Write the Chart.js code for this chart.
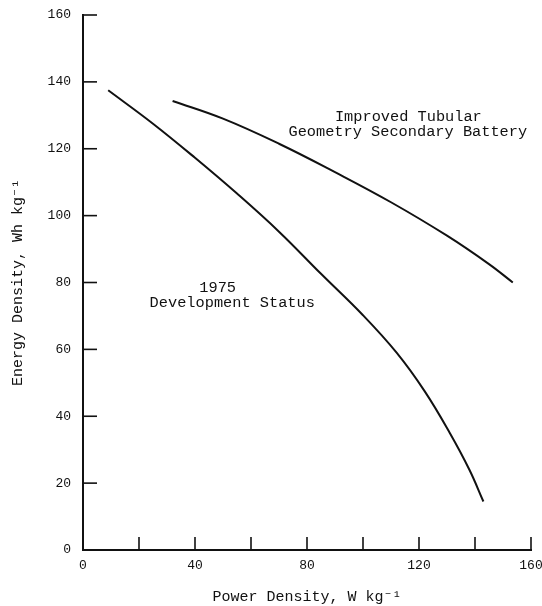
<!DOCTYPE html>
<html>
<head>
<meta charset="utf-8">
<script src="https://cdn.jsdelivr.net/npm/chart.js@4.4.1/dist/chart.umd.min.js"></script>
<style>
  html, body { margin: 0; padding: 0; background: #fff; }
  #wrap { width: 542px; height: 606px; position: relative; }
</style>
</head>
<body>
<div id="wrap"><canvas id="c" width="542" height="606"></canvas></div>
<script>
// ---- data ----
const devPower  = [9, 25, 40, 55, 70, 85, 100, 112, 122, 131, 138, 143];
const devEnergy = [137.5, 127.5, 117.3, 106.6, 95.2, 82.6, 70.2, 59, 47.5, 35, 24, 14.5];

const impPower  = [32, 50, 70, 90, 110, 130, 145, 153.5];
const impEnergy = [134.3, 129, 121.5, 113, 104, 94, 85.5, 80];

const xTickLabels = [0, 40, 80, 120, 160];
const xMinorTicks = [20, 60, 100, 140];
const yTickValues = [0, 20, 40, 60, 80, 100, 120, 140, 160];

const curveLabelText = ["Improved Tubular", "Geometry Secondary Battery", "1975", "Development Status"];
const curveLabelX    = [116.2, 116, 48.1, 53.3];
const curveLabelY    = [129.5, 124.9, 78.3, 73.8];

const toPts = (xs, ys) => xs.map((x, i) => ({ x: x, y: ys[i] }));

const MONO = "'Liberation Mono', 'DejaVu Sans Mono', monospace";
const INK = '#111';

const innerTicks = {
  id: 'innerTicks',
  afterDraw(chart) {
    const ctx = chart.ctx;
    const xs = chart.scales.x, ys = chart.scales.y;
    ctx.save();
    ctx.strokeStyle = INK;
    ctx.lineWidth = 1.6;
    const x0 = xs.getPixelForValue(0), y0 = ys.getPixelForValue(0);
    yTickValues.forEach(v => {
      if (v === 0) return;
      const py = ys.getPixelForValue(v);
      ctx.beginPath(); ctx.moveTo(x0, py); ctx.lineTo(x0 + 14, py); ctx.stroke();
    });
    xTickLabels.concat(xMinorTicks).forEach(v => {
      if (v === 0) return;
      const px = xs.getPixelForValue(v);
      ctx.beginPath(); ctx.moveTo(px, y0); ctx.lineTo(px, y0 - 13); ctx.stroke();
    });
    ctx.fillStyle = INK;
    ctx.font = "15.3px " + MONO;
    ctx.textAlign = 'center';
    ctx.textBaseline = 'middle';
    curveLabelText.forEach((t, i) => {
      ctx.fillText(t, xs.getPixelForValue(curveLabelX[i]), ys.getPixelForValue(curveLabelY[i]));
    });
    ctx.restore();
  }
};

new Chart(document.getElementById('c'), {
  type: 'scatter',
  data: {
    datasets: [
      { label: '1975 Development Status', data: toPts(devPower, devEnergy),
        showLine: true, borderColor: INK, borderWidth: 2, pointRadius: 0, tension: 0.4 },
      { label: 'Improved Tubular Geometry Secondary Battery', data: toPts(impPower, impEnergy),
        showLine: true, borderColor: INK, borderWidth: 2, pointRadius: 0, tension: 0.4 }
    ]
  },
  options: {
    responsive: false,
    animation: false,
    layout: { padding: 0 },
    plugins: { legend: { display: false }, tooltip: { enabled: false } },
    scales: {
      x: {
        type: 'linear', min: 0, max: 160,
        afterFit(s) { s.height = 56; s.paddingRight = 11; s.paddingLeft = 0; },
        afterBuildTicks(s) { s.ticks = xTickLabels.map(v => ({ value: v })); },
        grid: { display: false, drawTicks: false },
        border: { display: true, color: INK, width: 2 },
        ticks: { color: INK, font: { family: MONO, size: 13 }, padding: 8, maxRotation: 0 },
        title: { display: true, text: 'Power Density, W kg\u207B\u00B9', color: INK,
                 font: { family: MONO, size: 15 }, padding: { top: 15, bottom: 0 } }
      },
      y: {
        type: 'linear', min: 0, max: 160,
        afterFit(s) { s.width = 83; s.paddingTop = 15; s.paddingBottom = 0; },
        afterBuildTicks(s) { s.ticks = yTickValues.map(v => ({ value: v })); },
        grid: { display: false, drawTicks: false },
        border: { display: true, color: INK, width: 2 },
        ticks: { color: INK, font: { family: MONO, size: 13 }, padding: 12 },
        title: { display: true, text: 'Energy Density, Wh kg\u207B\u00B9', color: INK,
                 font: { family: MONO, size: 15 }, padding: { top: 9, bottom: 0 } }
      }
    }
  },
  plugins: [innerTicks]
});
</script>
</body>
</html>
